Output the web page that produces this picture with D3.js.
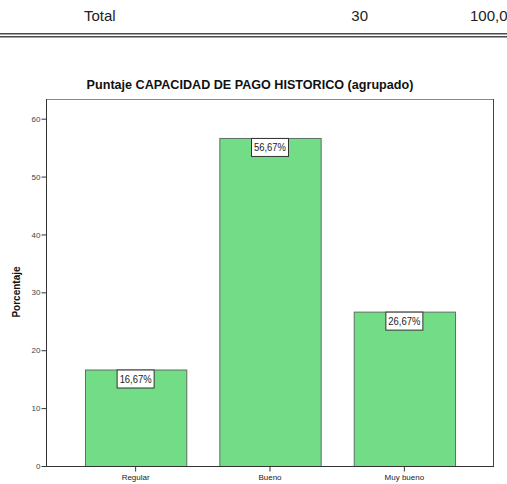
<!DOCTYPE html>
<html><head><meta charset="utf-8">
<script src="https://cdn.jsdelivr.net/npm/d3@7"></script>
<style>body{margin:0;background:#fff}svg{display:block}</style>
</head><body>
<svg id="c" width="507" height="484"></svg>
<script>
const categories = ["Regular", "Bueno", "Muy bueno"];
const values = [16.67, 56.67, 26.67];
const yTicks = [0, 10, 20, 30, 40, 50, 60];
const title = "Puntaje CAPACIDAD DE PAGO HISTORICO (agrupado)";
const yLabel = "Porcentaje";
const tableRow = ["Total", "30", "100,0"];

(function () {
const svg = d3.select("#c");
const pL = 46, pR = 494, pT = 99, pB = 466;

// table fragment on top
svg.append("text").attr("x", 84).attr("y", 21).attr("font-family", "Liberation Sans, Arial, sans-serif")
  .attr("font-size", 15).attr("fill", "#222").text(tableRow[0]);
svg.append("text").attr("x", 368).attr("y", 21).attr("text-anchor", "end").attr("font-family", "Liberation Sans, Arial, sans-serif")
  .attr("font-size", 15).attr("fill", "#222").text(tableRow[1]);
svg.append("text").attr("x", 470).attr("y", 21).attr("font-family", "Liberation Sans, Arial, sans-serif")
  .attr("font-size", 15).attr("fill", "#222").text(tableRow[2]);
svg.append("rect").attr("x", 0).attr("y", 33).attr("width", 507).attr("height", 1.5).attr("fill", "#4a4a4a");
svg.append("rect").attr("x", 0).attr("y", 36).attr("width", 507).attr("height", 1.5).attr("fill", "#4a4a4a");

const x = d3.scaleBand().domain(categories).range([pL, pR]).paddingInner(0.246).paddingOuter(0.29);
const y = d3.scaleLinear().domain([0, 63.4]).range([pB, pT]);

// frame
svg.append("line").attr("x1", pL).attr("x2", pR).attr("y1", pT + 0.5).attr("y2", pT + 0.5).attr("stroke", "#8a8a8a");
svg.append("line").attr("x1", pR - 0.5).attr("x2", pR - 0.5).attr("y1", pT).attr("y2", pB).attr("stroke", "#444");

// bars
svg.selectAll("rect.bar").data(values).enter().append("rect").attr("class", "bar")
  .attr("x", (d, i) => x(categories[i]) + 0.5)
  .attr("y", d => y(d) + 0.5)
  .attr("width", x.bandwidth())
  .attr("height", d => pB - y(d))
  .attr("fill", "#72dc86").attr("stroke", "#5f6f62").attr("stroke-width", 1);

// y axis
const yAxis = svg.append("g").attr("transform", `translate(${pL + 0.5},0)`)
  .call(d3.axisLeft(y).tickValues(yTicks).tickSize(5).tickSizeOuter(0).tickPadding(1));
yAxis.select(".domain").attr("stroke", "#333").attr("d", `M0,${pT}V${pB}`);
yAxis.selectAll(".tick line").attr("stroke", "#333");
yAxis.selectAll("text").attr("font-family", "Liberation Sans, Arial, sans-serif").attr("font-size", 8).attr("fill", "#444");

// x axis
const xAxis = svg.append("g").attr("transform", `translate(0,${pB + 0.5})`)
  .call(d3.axisBottom(x).tickSize(5).tickSizeOuter(0).tickPadding(3));
xAxis.select(".domain").attr("stroke", "#333").attr("d", `M${pL},0H${pR}`);
xAxis.selectAll(".tick line").attr("stroke", "#333");
xAxis.selectAll("text").attr("font-family", "Liberation Sans, Arial, sans-serif").attr("font-size", 8).attr("fill", "#222");

// value labels
const lbl = svg.selectAll("g.lbl").data(values).enter().append("g").attr("class", "lbl")
  .attr("transform", (d, i) => `translate(${x(categories[i]) + x.bandwidth() / 2},${y(d)})`);
lbl.append("rect").attr("x", -18.5).attr("y", 0.5).attr("width", 37).attr("height", 18)
  .attr("fill", "#fff").attr("stroke", "#333").attr("stroke-width", 1);
lbl.append("text").attr("x", -16).attr("y", 13.5)
  .attr("textLength", 32).attr("lengthAdjust", "spacingAndGlyphs")
  .attr("font-family", "Liberation Sans, Arial, sans-serif").attr("font-size", 11).attr("fill", "#222")
  .text(d => d.toFixed(2).replace(".", ",") + "%");

// title
svg.append("text").attr("x", 250).attr("y", 89).attr("text-anchor", "middle")
  .attr("font-family", "Liberation Sans, Arial, sans-serif").attr("font-weight", "bold").attr("font-size", 12.6)
  .attr("fill", "#111").text(title);

// y label
svg.append("text").attr("transform", "translate(20,292) rotate(-90)").attr("text-anchor", "middle")
  .attr("font-family", "Liberation Sans, Arial, sans-serif").attr("font-weight", "bold").attr("font-size", 10)
  .attr("fill", "#111").text(yLabel);
})();
</script>
</body></html>
